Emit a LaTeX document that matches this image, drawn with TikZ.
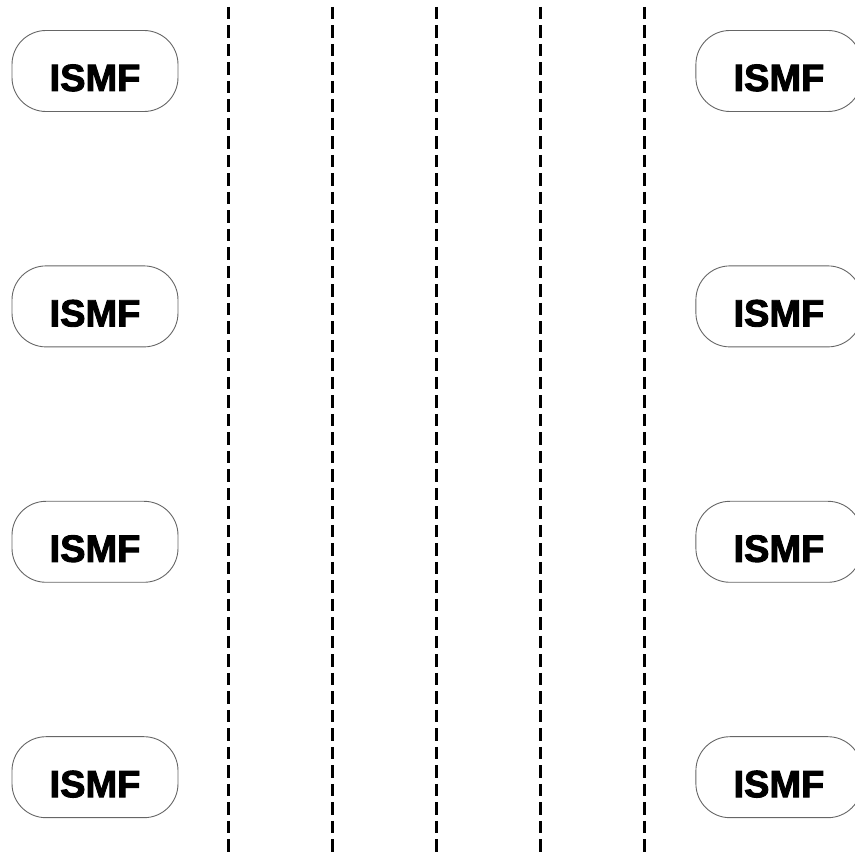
\documentclass[tikz,border=0pt]{standalone}
\usepackage{fontspec}
\setmainfont{Liberation Sans}[BoldFeatures={FakeBold=2.5}]
\usetikzlibrary{positioning}

\begin{document}
\begin{tikzpicture}[
    x=1pt, y=1pt,
    node distance=153.5pt and 517pt,
    ismf/.style={rectangle, draw=black!60, line width=0.9pt, rounded corners=34pt, minimum width=166pt, minimum height=81pt, text height=40pt, text depth=0pt, inner sep=0pt, font=\fontsize{38}{38}\selectfont\bfseries},
    sep/.style={line width=3pt, dash pattern=on 12.5pt off 6pt}
]
\useasboundingbox (0,0) rectangle (855,854);

% left column
\node[ismf] at (95,783) (l1) {ISMF};
\node[ismf, below=of l1] (l2) {ISMF};
\node[ismf, below=of l2] (l3) {ISMF};
\node[ismf, below=of l3] (l4) {ISMF};

% right column
\node[ismf, right=of l1] (r1) {ISMF};
\node[ismf, right=of l2] (r2) {ISMF};
\node[ismf, right=of l3] (r3) {ISMF};
\node[ismf, right=of l4] (r4) {ISMF};

% separators
\foreach \x in {228,332,436,540,644}
  \draw[sep] (\x,847) -- (\x,0);

\end{tikzpicture}
\end{document}
